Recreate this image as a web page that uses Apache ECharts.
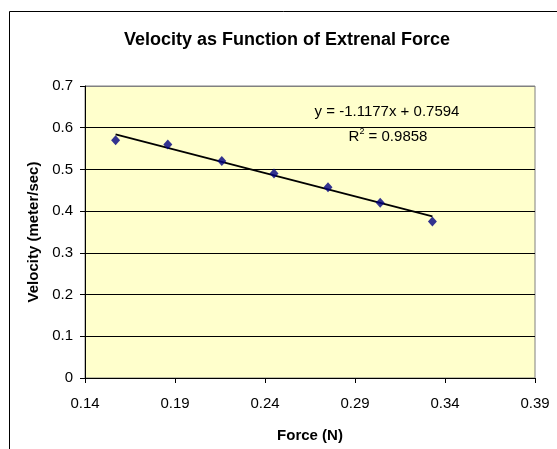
<!DOCTYPE html>
<html>
<head>
<meta charset="utf-8">
<script src="https://cdn.jsdelivr.net/npm/echarts@6/dist/echarts.min.js"></script>
<style>
html,body{margin:0;padding:0;background:#fff;}
#c{width:557px;height:449px;}
</style>
</head>
<body>
<div id="c"></div>
<script>
// Data
const force = [0.157, 0.186, 0.216, 0.245, 0.275, 0.304, 0.333];
const velocity = [0.570, 0.560, 0.520, 0.490, 0.457, 0.420, 0.375];
const xTicks = [0.14, 0.19, 0.24, 0.29, 0.34, 0.39];
const slope = -1.1177;
const intercept = 0.7594;
const rSquared = 0.9858;

const FONT = '"Liberation Sans", Arial, sans-serif';
const points = force.map((f, i) => [f, velocity[i]]);
const xFirst = force[0], xLast = force[force.length - 1];
const trend = [[xFirst, slope * xFirst + intercept], [xLast, slope * xLast + intercept]];

const chart = echarts.init(document.getElementById('c'), null, {renderer: 'canvas'});
chart.setOption({
  backgroundColor: '#ffffff',
  animation: false,
  title: {
    text: 'Velocity as Function of Extrenal Force',
    left: 119,
    top: 26,
    textStyle: {fontFamily: FONT, fontSize: 18, fontWeight: 'bold', color: '#000'}
  },
  grid: {
    left: 85, top: 86, right: 22, bottom: 71,
    show: true, backgroundColor: '#FFFFCC', borderColor: '#808080', borderWidth: 1
  },
  xAxis: {
    type: 'value',
    min: 0.14, max: 0.39,
    name: 'Force (N)',
    nameLocation: 'middle',
    nameGap: 50,
    nameTextStyle: {fontFamily: FONT, fontSize: 15, fontWeight: 'bold', color: '#000'},
    axisLine: {show: true, onZero: false, lineStyle: {color: '#000', width: 1}},
    axisTick: {show: true, inside: false, length: 5, customValues: xTicks, lineStyle: {color: '#000'}},
    axisLabel: {
      customValues: xTicks, margin: 18,
      fontFamily: FONT, fontSize: 15, color: '#000',
      formatter: v => v.toFixed(2)
    },
    splitLine: {show: false}
  },
  yAxis: {
    type: 'value',
    min: 0, max: 0.7, interval: 0.1,
    name: 'Velocity (meter/sec)',
    nameLocation: 'middle',
    nameGap: 44,
    nameTextStyle: {fontFamily: FONT, fontSize: 15, fontWeight: 'bold', color: '#000'},
    axisLine: {show: true, lineStyle: {color: '#000', width: 1}},
    axisTick: {show: true, inside: false, length: 5, lineStyle: {color: '#000'}},
    axisLabel: {
      margin: 12, fontFamily: FONT, fontSize: 15, color: '#000',
      formatter: v => (v === 0 ? '0' : v.toFixed(1))
    },
    splitLine: {show: true, lineStyle: {color: ['#000', '#000', '#000', '#000', '#000', '#000', '#000', '#808080'], width: 1}}
  },
  series: [
    {
      type: 'line',
      data: trend,
      showSymbol: false,
      symbol: 'none',
      lineStyle: {color: '#000', width: 1.8},
      z: 3
    },
    {
      type: 'scatter',
      data: points,
      symbol: 'diamond',
      symbolSize: [9, 10],
      itemStyle: {color: '#000080'},
      z: 4
    }
  ],
  graphic: [
    {
      type: 'rect',
      shape: {x: 9.5, y: 11.5, width: 600, height: 500},
      style: {fill: 'none', stroke: '#000', lineWidth: 1},
      z: 100, silent: true
    },
    {
      type: 'text',
      x: 387, y: 112,
      style: {
        text: 'y = ' + slope.toFixed(4) + 'x + ' + intercept.toFixed(4),
        fontFamily: FONT, fontSize: 15, fill: '#000',
        align: 'center', verticalAlign: 'middle'
      },
      z: 50
    },
    {
      type: 'text',
      x: 388, y: 136,
      style: {
        text: '{r|R}{s|2}{r| = ' + rSquared.toFixed(4) + '}',
        rich: {
          r: {fontFamily: FONT, fontSize: 15, fill: '#000', verticalAlign: 'bottom'},
          s: {fontFamily: FONT, fontSize: 9, fill: '#000', verticalAlign: 'top', padding: [0, 0, 8, 0]}
        },
        align: 'center', verticalAlign: 'middle'
      },
      z: 50
    }
  ]
});
</script>
</body>
</html>
